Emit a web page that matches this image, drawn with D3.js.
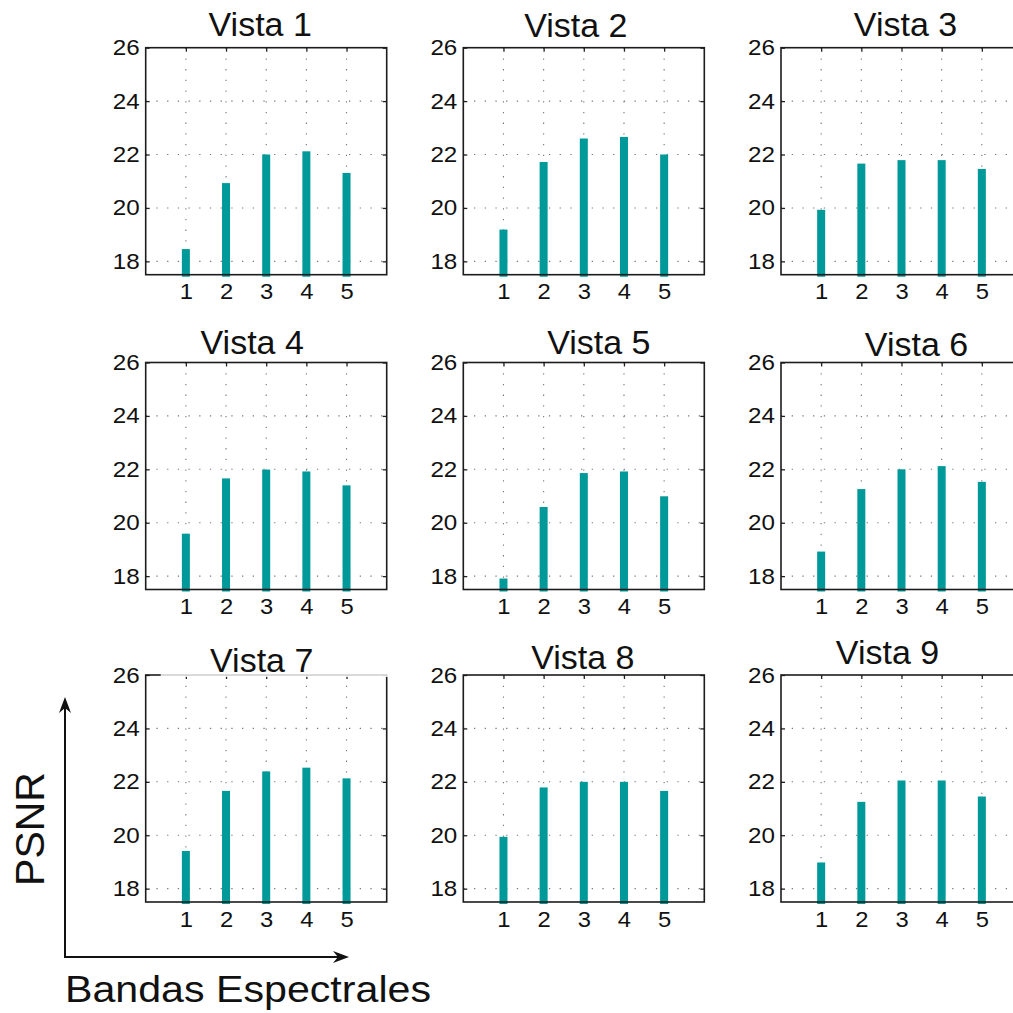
<!DOCTYPE html>
<html>
<head>
<meta charset="utf-8">
<script src="https://cdn.jsdelivr.net/npm/d3@7"></script>
<style>
  html, body { margin: 0; padding: 0; background: #fff; }
  svg { display: block; font-family: "Liberation Sans", Arial, sans-serif; }
</style>
</head>
<body>
<div id="chart"></div>
<script>
// data
const bands = [1, 2, 3, 4, 5];
const views = ['Vista 1', 'Vista 2', 'Vista 3', 'Vista 4', 'Vista 5', 'Vista 6', 'Vista 7', 'Vista 8', 'Vista 9'];
const psnr1 = [18.46, 20.93, 22.00, 22.12, 21.31];
const psnr2 = [19.19, 21.72, 22.60, 22.66, 22.00];
const psnr3 = [19.93, 21.66, 21.79, 21.79, 21.46];
const psnr4 = [19.59, 21.66, 21.99, 21.92, 21.40];
const psnr5 = [17.91, 20.59, 21.86, 21.92, 20.99];
const psnr6 = [18.92, 21.26, 22.00, 22.12, 21.53];
const psnr7 = [19.41, 21.66, 22.39, 22.53, 22.13];
const psnr8 = [19.94, 21.79, 22.00, 22.00, 21.66];
const psnr9 = [18.98, 21.25, 22.05, 22.05, 21.45];
const yTicks = [18, 20, 22, 24, 26];
const xTicks = [1, 2, 3, 4, 5];
const seriesAll = [psnr1, psnr2, psnr3, psnr4, psnr5, psnr6, psnr7, psnr8, psnr9];

// layout
const W = 1013, H = 1013;
const colX = [145.7, 463.3, 781];
const rowY = [47.7, 362.5, 675];
const pw = 241, ph = 227;
// title nudges (dx from panel centre, baseline offset above panel top)
const titleDx = [-6, -8, 4, -14, 15, 15, -4.5, -1, -14];
const titleUp = [11.5, 11, 11.5, 9, 9, 6.5, 3.5, 6.5, 11];
const barColor = '#00999a';

const svg = d3.select('#chart').append('svg')
  .attr('width', W).attr('height', H);

const x = d3.scaleLinear().domain([0, 6]).range([0, pw]);
const y = d3.scaleLinear().domain([17.5, 26]).range([ph, 0]);

function stretch(sel, k) {
  sel.each(function () {
    const len = this.getComputedTextLength();
    d3.select(this).attr('textLength', len * k).attr('lengthAdjust', 'spacingAndGlyphs');
  });
}

seriesAll.forEach((vals, i) => {
  const r = Math.floor(i / 3), c = i % 3;
  const g = svg.append('g').attr('transform', `translate(${colX[c]},${rowY[r]})`);

  // dotted grid
  g.append('g').selectAll('line.gy').data(yTicks.slice(0, -1)).enter().append('line')
    .attr('x1', 0).attr('x2', pw)
    .attr('y1', d => y(d)).attr('y2', d => y(d))
    .attr('stroke', '#777').attr('stroke-width', 1.1)
    .attr('stroke-dasharray', '1.3,9.4');
  g.append('g').selectAll('line.gx').data(xTicks).enter().append('line')
    .attr('x1', d => x(d)).attr('x2', d => x(d))
    .attr('y1', 0).attr('y2', ph)
    .attr('stroke', '#777').attr('stroke-width', 1.1)
    .attr('stroke-dasharray', '1.3,9.4');

  // bars
  g.selectAll('rect.bar').data(vals).enter().append('rect')
    .attr('class', 'bar')
    .attr('x', (d, k) => x(bands[k]) - 4)
    .attr('width', 8)
    .attr('y', d => y(d))
    .attr('height', d => ph + 2 - y(d))
    .attr('fill', barColor);

  // axes with inward ticks
  const left = g.append('g').call(d3.axisLeft(y).tickValues(yTicks).tickFormat(d3.format('d'))
    .tickSizeInner(-4).tickSizeOuter(0).tickPadding(6));
  const right = g.append('g').attr('transform', `translate(${pw},0)`)
    .call(d3.axisRight(y).tickValues(yTicks).tickSizeInner(-4).tickSizeOuter(0).tickFormat(''));
  const top = g.append('g')
    .call(d3.axisTop(x).tickValues(xTicks).tickSizeInner(-4).tickSizeOuter(0).tickFormat(''));
  const bottom = g.append('g').attr('transform', `translate(0,${ph})`)
    .call(d3.axisBottom(x).tickValues(xTicks).tickFormat(d3.format('d'))
      .tickSizeInner(0).tickSizeOuter(0).tickPadding(9));

  [left, right, top, bottom].forEach(a => {
    a.attr('font-size', 22).attr('font-family', '"Liberation Sans", Arial, sans-serif');
    a.select('.domain').remove();
    a.selectAll('line').attr('stroke', '#222').attr('stroke-width', 1.3);
    a.selectAll('text').attr('fill', '#111');
  });
  left.selectAll('text').call(stretch, 1.1);
  bottom.selectAll('text').attr('dy', '0.71em').call(stretch, 1.08);

  // box
  g.append('rect').attr('x', 0).attr('y', 0).attr('width', pw).attr('height', ph)
    .attr('fill', 'none').attr('stroke', '#1c1c1c').attr('stroke-width', 1.6);

  // title backdrop for the panel whose title sits on its frame
  if (i === 6) {
    g.append('rect').attr('x', 15).attr('y', -36).attr('width', pw - 13).attr('height', 38)
      .attr('fill', '#fff').attr('opacity', 0.8);
  }

  g.append('text')
    .attr('x', pw / 2 + titleDx[i])
    .attr('y', -titleUp[i])
    .attr('text-anchor', 'middle')
    .attr('font-size', 34)
    .attr('fill', '#111')
    .text(views[i]);
});

// big axis arrows
const ax0 = 65, ay0 = 957, yTip = 697, xTip = 349;
svg.append('line').attr('x1', ax0).attr('y1', ay0 + 1).attr('x2', ax0).attr('y2', yTip + 8)
  .attr('stroke', '#111').attr('stroke-width', 2);
svg.append('line').attr('x1', ax0 - 1).attr('y1', ay0).attr('x2', xTip - 8).attr('y2', ay0)
  .attr('stroke', '#111').attr('stroke-width', 2);
svg.append('path')
  .attr('d', `M${ax0},${yTip} L${ax0 + 6},${yTip + 16} L${ax0},${yTip + 11} L${ax0 - 6},${yTip + 16} Z`)
  .attr('fill', '#111');
svg.append('path')
  .attr('d', `M${xTip},${ay0} L${xTip - 16},${ay0 - 6} L${xTip - 11},${ay0} L${xTip - 16},${ay0 + 6} Z`)
  .attr('fill', '#111');

svg.append('text')
  .attr('transform', 'translate(44,829) rotate(-90)')
  .attr('text-anchor', 'middle')
  .attr('font-size', 41)
  .attr('fill', '#111')
  .text('PSNR');

svg.append('text')
  .attr('x', 65).attr('y', 1001.5)
  .attr('font-size', 37)
  .attr('fill', '#111')
  .attr('textLength', 366).attr('lengthAdjust', 'spacingAndGlyphs')
  .text('Bandas Espectrales');
</script>
</body>
</html>
